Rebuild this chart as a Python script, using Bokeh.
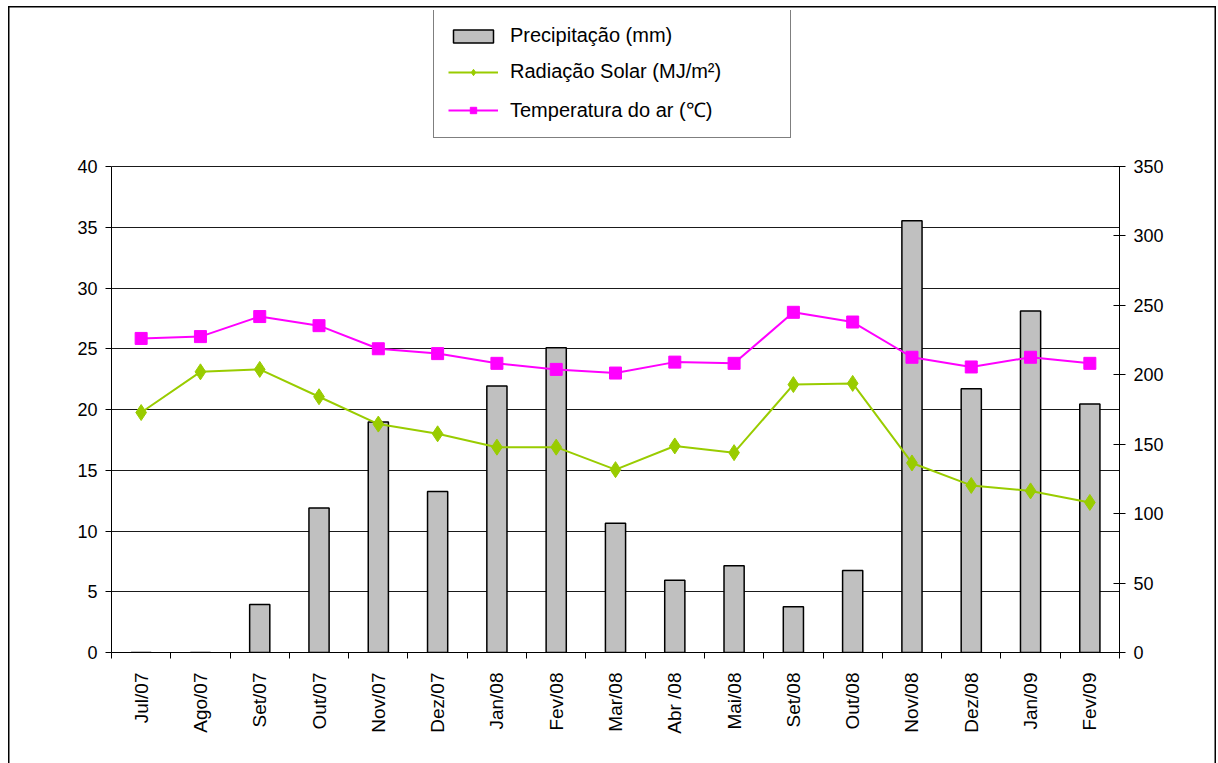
import math
from bokeh.plotting import figure
from bokeh.models import (Range1d, LinearAxis, FixedTicker, Legend, LegendItem,
                          ColumnDataSource)
from bokeh.embed import file_html
from bokeh.resources import INLINE

# Monthly series
categories = ["Jul/07", "Ago/07", "Set/07", "Out/07", "Nov/07", "Dez/07", "Jan/08",
              "Fev/08", "Mar/08", "Abr /08", "Mai/08", "Set/08", "Out/08", "Nov/08",
              "Dez/08", "Jan/09", "Fev/09"]
precipitacao = [0, 0, 34.5, 104, 166, 116, 192, 219.5, 93, 52, 62.5, 33, 59, 311,
                190, 246, 179]
radiacao = [19.75, 23.1, 23.3, 21.05, 18.8, 18.0, 16.9, 16.9, 15.05, 17.0, 16.45,
            22.05, 22.15, 15.6, 13.75, 13.3, 12.35]
temperatura = [25.85, 26.0, 27.65, 26.9, 25.0, 24.6, 23.8, 23.3, 23.0, 23.9, 23.8,
               28.0, 27.2, 24.3, 23.5, 24.3, 23.8]

left_ticks = [0, 5, 10, 15, 20, 25, 30, 35, 40]
right_ticks = [0, 50, 100, 150, 200, 250, 300, 350]

FONT = "Liberation Sans"

# Layout: the plotting frame also holds the legend area above the axes
W, H = 1218, 763
FRAME_TOP, AXES_TOP, AXES_BOTTOM = 10, 166, 652
stretch = (AXES_BOTTOM - FRAME_TOP) / (AXES_BOTTOM - AXES_TOP)

n = len(categories)
centers = [i + 0.5 for i in range(n)]
source = ColumnDataSource(dict(x=centers, cat=categories, prec=precipitacao,
                               rad=radiacao, temp=temperatura))

p = figure(width=W, height=H, output_backend="svg", toolbar_location=None,
           x_range=Range1d(0, n),
           y_range=Range1d(left_ticks[0], left_ticks[-1] * stretch),
           min_border_left=111, min_border_right=99, min_border_top=FRAME_TOP,
           min_border_bottom=H - AXES_BOTTOM)
# thin frame around the chart area, open at the bottom
p.styles = {"box-shadow": "inset 8px 6px 0 0 white, inset -2px 0 0 0 white, "
                          "inset 9.5px 7.5px 0 0 black, inset -3.5px 0 0 0 black"}
p.background_fill_color = "white"
p.border_fill_alpha = 0
p.outline_line_color = None

p.extra_y_ranges = {"prec": Range1d(right_ticks[0], right_ticks[-1] * stretch)}

# Grid
p.xgrid.visible = False
p.ygrid.ticker = FixedTicker(ticks=left_ticks)
p.ygrid.grid_line_color = "#1a1a1a"
p.ygrid.grid_line_width = 1

# Bottom axis: labels at category centres, ticks at category boundaries
xa = p.xaxis[0]
xa.ticker = FixedTicker(ticks=centers, minor_ticks=list(range(n + 1)))
xa.major_label_overrides = {c: lab for c, lab in zip(centers, categories)}
xa.major_label_orientation = math.pi / 2
xa.major_tick_line_color = None
xa.major_tick_out = 0
xa.major_tick_in = 0
xa.minor_tick_line_color = "black"
xa.minor_tick_out = 6
xa.minor_tick_in = 0
xa.major_label_standoff = 14
xa.major_label_text_font = FONT
xa.major_label_text_font_size = "19px"
xa.major_label_text_color = "black"
xa.axis_line_color = "black"

# Left axis
ya = p.yaxis[0]
ya.ticker = FixedTicker(ticks=left_ticks)
ya.bounds = (left_ticks[0], left_ticks[-1])
ya.major_tick_out = 6
ya.major_tick_in = 0
ya.minor_tick_line_color = None
ya.major_label_standoff = 8
ya.major_label_text_font = FONT
ya.major_label_text_font_size = "18px"
ya.major_label_text_color = "black"
ya.axis_line_color = "black"
ya.major_tick_line_color = "black"

# Right axis for precipitation
ra = LinearAxis(y_range_name="prec", ticker=FixedTicker(ticks=right_ticks),
                bounds=(right_ticks[0], right_ticks[-1]))
ra.major_tick_out = 6
ra.major_tick_in = 6
ra.minor_tick_line_color = None
ra.major_label_standoff = 8
ra.major_label_text_font = FONT
ra.major_label_text_font_size = "18px"
ra.major_label_text_color = "black"
ra.axis_line_color = "black"
ra.major_tick_line_color = "black"
p.add_layout(ra, "right")

# Precipitation bars
bars = p.vbar(x="x", top="prec", width=0.34, bottom=0, source=source,
              y_range_name="prec", fill_color="#C0C0C0", line_color="black",
              line_width=1.5)

# Solar radiation
rad_line = p.line("x", "rad", source=source, line_color="#99CC00", line_width=2)
rad_pts = p.scatter("x", "rad", source=source, marker="diamond", size=16,
                    fill_color="#99CC00", line_color="#99CC00")

# Air temperature
temp_line = p.line("x", "temp", source=source, line_color="#FF00FF", line_width=2)
temp_pts = p.scatter("x", "temp", source=source, marker="square", size=12,
                     fill_color="#FF00FF", line_color="#FF00FF")

legend = Legend(items=[
    LegendItem(label="Precipitação (mm)", renderers=[bars]),
    LegendItem(label="Radiação Solar (MJ/m²)", renderers=[rad_line, rad_pts]),
    LegendItem(label="Temperatura do ar (℃)", renderers=[temp_line, temp_pts]),
], location=(322, 514))
legend.border_line_color = "black"
legend.border_line_width = 1.2
legend.background_fill_color = "white"
legend.background_fill_alpha = 1
legend.padding = 14
legend.margin = 0
legend.spacing = 13
legend.glyph_width = 50
legend.glyph_height = 16
legend.label_height = 22
legend.label_width = 266
legend.label_standoff = 12
legend.label_text_font = FONT
legend.label_text_font_size = "20px"
legend.label_text_color = "black"
p.add_layout(legend, "center")

open("out.html", "w").write(file_html(p, INLINE))
